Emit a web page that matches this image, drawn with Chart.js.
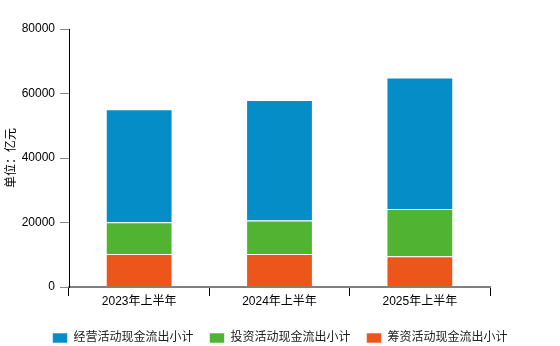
<!DOCTYPE html>
<html>
<head>
<meta charset="utf-8">
<script src="https://cdn.jsdelivr.net/npm/chart.js@4"></script>
<style>
    html, body { margin: 0; padding: 0; background: #fff; }
    #wrap { width: 560px; height: 346px; }
</style>
</head>
<body>
<div id="wrap"><canvas id="cash_canvas"></canvas></div>
<script>
const categories = ['2023年上半年', '2024年上半年', '2025年上半年'];
// 亿元
const operatingOut = [35000, 37400, 40800];
const investingOut = [9900, 10400, 14650];
const financingOut = [10200, 10200, 9550];
const yTicks = [0, 20000, 40000, 60000, 80000];

const fontFamily = '"Liberation Sans", Arial, "Noto Sans CJK SC", sans-serif';

const ctx_cash = document.getElementById('cash_canvas').getContext('2d');

// datasets go bottom -> top, legend is reversed to read 经营 / 投资 / 筹资
const barStyle = { borderColor: 'rgba(255,255,255,0.55)', borderWidth: 1, borderSkipped: 'start', categoryPercentage: 1, barPercentage: 0.476 };

const configCash = {
    type: 'bar',
    data: {
        labels: categories,
        datasets: [
            { label: '筹资活动现金流出小计', data: financingOut, backgroundColor: '#ED561B', ...barStyle },
            { label: '投资活动现金流出小计', data: investingOut, backgroundColor: '#50B432', ...barStyle },
            { label: '经营活动现金流出小计', data: operatingOut, backgroundColor: '#058DC7', ...barStyle }
        ]
    },
    options: {
        responsive: true,
        maintainAspectRatio: false,
        animation: false,
        layout: { padding: { top: 29, right: 0, left: 0, bottom: -8 } },
        plugins: {
            tooltip: { enabled: false },
            legend: {
                position: 'bottom',
                reverse: true,
                labels: {
                    boxWidth: 15, boxHeight: 10, padding: 16,
                    color: '#222',
                    font: { family: fontFamily, size: 12 }
                }
            }
        },
        scales: {
            x: {
                stacked: true,
                grid: { drawOnChartArea: false, drawTicks: true, tickLength: 9, color: '#000', offset: true },
                border: { color: '#808080', width: 2 },
                ticks: { color: '#000', padding: -2, font: { family: fontFamily, size: 12 } },
                afterFit: (scale) => { scale.height = 29; }
            },
            y: {
                stacked: true,
                min: 0, max: 80000,
                afterBuildTicks: (scale) => { scale.ticks = yTicks.map(v => ({ value: v })); },
                grid: { drawOnChartArea: false, drawTicks: true, tickLength: 9, color: '#888' },
                border: { color: '#000', width: 1 },
                ticks: { color: '#000', padding: 5, font: { family: fontFamily, size: 12 }, callback: (v) => String(v) },
                title: { display: true, text: '单位：亿元', color: '#000', padding: 4, font: { family: fontFamily, size: 12 } },
                afterFit: (scale) => { scale.width = 69; }
            },
            // empty right-hand axis, only keeps the space to the right of the plot
            yPad: {
                position: 'right',
                grid: { display: false },
                border: { display: false },
                ticks: { display: false },
                afterFit: (scale) => { scale.width = 70; }
            }
        }
    }
};

const chart_cash = new Chart(ctx_cash, configCash);
</script>
</body>
</html>
